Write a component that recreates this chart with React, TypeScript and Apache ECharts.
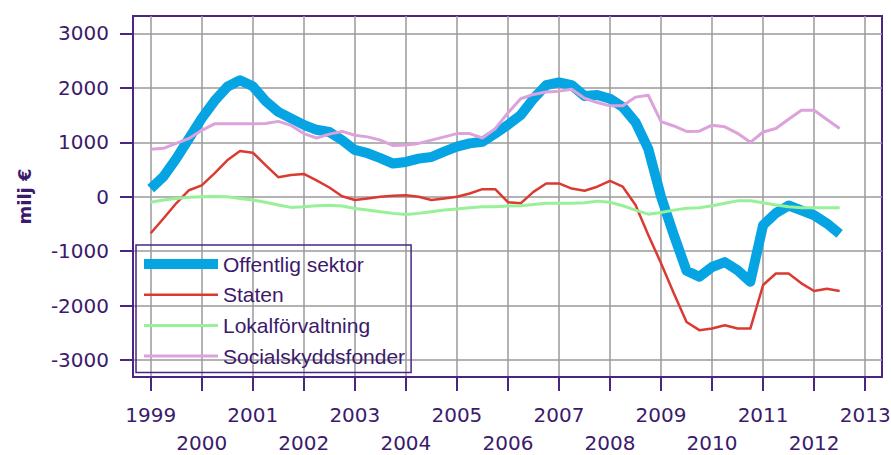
import React, { useEffect, useRef } from "react";
import * as echarts from "echarts";

// Quarterly data, first point = 1999 Q1
const startYear = 1999;
const seriesNames = ["Offentlig sektor", "Staten", "Lokalförvaltning", "Socialskyddsfonder"];

const offentligSektor = [
  150, 370, 700, 1070,
  1440, 1760, 2020, 2140,
  2030, 1760, 1560, 1440,
  1320, 1230, 1190, 1040,
  860, 800, 710, 610,
  640, 700, 730, 830,
  920, 980, 1010, 1160,
  1320, 1500, 1800, 2050,
  2100, 2050, 1850, 1870,
  1800, 1650, 1370, 880,
  0, -700, -1360, -1470,
  -1290, -1200, -1350, -1560,
  -520, -300, -160, -250,
  -340, -490, -680,
];
const staten = [
  -670, -400, -120, 120,
  210, 430, 670, 840,
  810, 580, 360, 400,
  420, 300, 170, 10,
  -60, -30, 0, 20,
  30, 0, -60, -30,
  0, 60, 140, 140,
  -100, -120, 90, 245,
  245, 150, 110, 185,
  290, 185, -150, -700,
  -1220, -1770, -2300, -2450,
  -2420, -2360, -2420, -2420,
  -1620, -1410, -1410, -1590,
  -1730, -1690, -1730,
];
const lokalforvaltning = [
  -100, -60, -30, -10,
  0, 5, 0, -30,
  -60, -100, -150, -195,
  -185, -165, -155, -170,
  -215, -245, -275, -305,
  -325, -305, -275, -245,
  -225, -200, -185, -185,
  -170, -165, -140, -120,
  -120, -120, -110, -80,
  -100, -165, -245, -320,
  -290, -245, -210, -200,
  -165, -120, -75, -75,
  -110, -150, -185, -200,
  -200, -200, -200,
];
const socialskyddsfonder = [
  875, 890, 980, 1070,
  1220, 1340, 1340, 1340,
  1340, 1345, 1385, 1310,
  1160, 1080, 1150, 1200,
  1130, 1100, 1040, 940,
  950, 980, 1040, 1100,
  1160, 1160, 1080, 1250,
  1540, 1800, 1880, 1925,
  1940, 1975, 1810, 1730,
  1670, 1670, 1830, 1865,
  1380, 1300, 1200, 1205,
  1315, 1285, 1165, 1000,
  1190, 1255, 1425, 1590,
  1590, 1420, 1255,
];

const yTicks = [-3000, -2000, -1000, 0, 1000, 2000, 3000];
const allYears = [1999, 2000, 2001, 2002, 2003, 2004, 2005, 2006, 2007, 2008, 2009, 2010, 2011, 2012, 2013];
const oddYearLabels = [1999, 2001, 2003, 2005, 2007, 2009, 2011, 2013];
const evenYearLabels = [2000, 2002, 2004, 2006, 2008, 2010, 2012];

const COLORS = ["#06a4e2", "#db3a31", "#98f098", "#dca2dc"];
const WIDTHS = [10, 2.5, 3, 3];
const TEXT = "#3b1a6c";
const FRAME = "#4a2684";
const GRID = "#9a9a9a";

const X_MIN = 1998.653;
const X_MAX = 2013.33;

const toPoints = (vals: number[]) => vals.map((v, i) => [startYear + i * 0.25, v]);

export default function App() {
  const ref = useRef<HTMLDivElement>(null);
  useEffect(() => {
    const chart = echarts.init(ref.current!, null, { renderer: "svg" });
    const tickFont = { fontFamily: "DejaVu Sans", fontSize: 20, color: TEXT };
    const allData = [offentligSektor, staten, lokalforvaltning, socialskyddsfonder];
    const option: any = {
      animation: false,
      backgroundColor: "#ffffff",
      grid: {
        left: 133,
        top: 16,
        right: 9,
        bottom: 78,
        show: true,
        borderColor: FRAME,
        borderWidth: 2,
        containLabel: false,
        outerBoundsMode: "none",
      },
      legend: {
        orient: "vertical",
        left: 136,
        top: 245,
        itemWidth: 74,
        itemHeight: 10,
        itemGap: 9.7,
        padding: [8.5, 6, 6, 3],
        borderColor: FRAME,
        borderWidth: 1.5,
        selectedMode: false,
        textStyle: { fontFamily: "Liberation Sans", fontSize: 21, lineHeight: 21, color: TEXT },
        data: seriesNames.map((n, i) => ({
          name: n,
          lineStyle: { width: WIDTHS[i], color: COLORS[i], cap: "butt" },
          itemStyle: { opacity: 0, borderWidth: 0 },
        })),
      },
      xAxis: [
        {
          type: "value",
          min: X_MIN,
          max: X_MAX,
          position: "bottom",
          axisLine: { show: true, onZero: false, lineStyle: { color: FRAME, width: 2 } },
          axisTick: { show: true, customValues: allYears, length: 14, inside: false, lineStyle: { color: FRAME, width: 2 } },
          axisLabel: {
            customValues: oddYearLabels,
            margin: 28,
            lineHeight: 20,
            ...tickFont,
            formatter: (v: number) => String(Math.round(v)),
          },
          splitLine: { show: true, lineStyle: { color: GRID, width: 1.5 } },
        },
        {
          type: "value",
          min: X_MIN,
          max: X_MAX,
          position: "bottom",
          axisLine: { show: false, onZero: false },
          axisTick: { show: false },
          splitLine: { show: false },
          axisLabel: {
            customValues: evenYearLabels,
            margin: 57,
            lineHeight: 17,
            ...tickFont,
            formatter: (v: number) => String(Math.round(v)),
          },
        },
      ],
      yAxis: {
        type: "value",
        min: -3310,
        max: 3320,
        axisLine: { show: true, onZero: false, lineStyle: { color: FRAME, width: 2 } },
        axisTick: { show: true, customValues: yTicks, length: 13, lineStyle: { color: FRAME, width: 2 } },
        axisLabel: {
          customValues: yTicks,
          margin: 24,
          ...tickFont,
          formatter: (v: number) => String(v),
        },
        splitLine: { show: true, lineStyle: { color: GRID, width: 1.5 } },
        name: "milj €",
        nameLocation: "middle",
        nameGap: 100,
        nameTextStyle: { fontFamily: "DejaVu Sans", fontWeight: "bold", fontSize: 18, color: TEXT },
      },
      series: seriesNames.map((n, i) => ({
        type: "line",
        name: n,
        xAxisIndex: 0,
        data: toPoints(allData[i]),
        symbol: "none",
        lineStyle: { color: COLORS[i], width: WIDTHS[i], join: "round", cap: "butt" },
        itemStyle: { color: COLORS[i] },
        z: 2 + i,
      })),
    };
    chart.setOption(option);
    return () => chart.dispose();
  }, []);
  return <div ref={ref} style={{ position: "fixed", left: 0, top: 0, width: 891, height: 455 }} />;
}
